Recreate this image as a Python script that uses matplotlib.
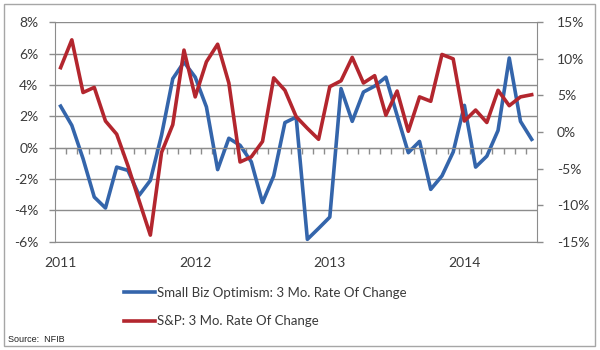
import matplotlib.pyplot as plt
import numpy as np
from matplotlib.lines import Line2D
from matplotlib.patches import Rectangle
from matplotlib.ticker import FixedLocator, FuncFormatter

# monthly values, Jan 2011 .. Jul 2014
years = ['2011', '2012', '2013', '2014']
small_biz = [2.65, 1.42, -0.7, -3.15, -3.85, -1.24, -1.45, -3.04, -2.09, 0.8, 4.4,
             5.46, 4.5, 2.6, -1.4, 0.6, 0.15, -0.9, -3.5, -1.8, 1.6, 1.95,
             -5.85, -5.15, -4.43, 3.77, 1.68, 3.55, 3.93, 4.5, 2.06, -0.32,
             0.4, -2.66, -1.8, -0.28, 2.7, -1.24, -0.54, 1.1, 5.72, 1.68, 0.53]
sp500 = [8.8, 12.6, 5.4, 6.1, 1.5, -0.3, -4.6, -9.4, -14.1, -2.8, 1.0,
         11.2, 4.8, 9.6, 12.0, 6.7, -4.1, -3.4, -1.3, 7.4, 5.7, 2.1,
         0.5, -1.0, 6.2, 7.0, 10.2, 6.7, 7.7, 2.3, 5.6, 0.1,
         4.8, 4.2, 10.6, 10.0, 1.5, 3.0, 1.3, 5.7, 3.6, 4.8, 5.1]
labels = ['Small Biz Optimism: 3 Mo. Rate Of Change', 'S&P: 3 Mo. Rate Of Change']

blue = '#3465ab'
red = '#b3262e'
gray = '#8c8c8c'
txt = '#3a3a3a'

plt.rcParams['font.family'] = ['Lato', 'DejaVu Sans']

fig = plt.figure(figsize=(6, 3.5), dpi=100)
ax = fig.add_axes([55 / 600, 1 - 241.7 / 350, (537.3 - 55) / 600, (241.7 - 22.3) / 350])
ax2 = ax.twinx()

x = np.arange(len(small_biz))
ax.plot(x, small_biz, color=blue, lw=2.6)
ax2.plot(x, sp500, color=red, lw=2.6)

ax.set_xlim(-0.5, len(x) - 0.5)
ax.set_ylim(-6, 8)
ax2.set_ylim(-15, 15)
ax.set_yticks(range(-6, 9, 2))
ax2.set_yticks(range(-15, 16, 5))
pct = FuncFormatter(lambda v, p: f'{v:.0f}%')
ax.yaxis.set_major_formatter(pct)
ax2.yaxis.set_major_formatter(pct)

ax.yaxis.grid(True, color=gray, lw=1.0)
ax.set_axisbelow(True)

# year labels under the plot, month ticks on the 0% line
ax.set_xticks([12 * i for i in range(len(years))])
ax.set_xticklabels(years)
ax.xaxis.set_minor_locator(FixedLocator(np.arange(0.5, len(x) - 0.5, 1)))
ax.spines['top'].set_position(('data', 0))
ax.tick_params(axis='x', which='major', bottom=True, top=False, length=0,
               pad=11, labelsize=10, labelcolor=txt)
ax.tick_params(axis='x', which='minor', bottom=False, top=True, direction='in',
               length=4, width=1, color=gray)
ax.tick_params(axis='y', length=4, width=1, color=gray, pad=8, labelsize=10, labelcolor=txt)
ax2.tick_params(axis='y', length=4, width=1, color=gray, pad=10, labelsize=10, labelcolor=txt)

for s in ['left', 'bottom', 'top']:
    ax.spines[s].set_color(gray)
ax.spines['right'].set_visible(False)
for s in ['left', 'bottom', 'top']:
    ax2.spines[s].set_visible(False)
ax2.spines['right'].set_color(gray)

handles = [Line2D([], [], color=blue, lw=2.6), Line2D([], [], color=red, lw=2.6)]
fig.legend(handles, labels, loc='upper left', bbox_to_anchor=(124 / 600, 1 - 287 / 350),
           frameon=False, fontsize=9.5, handlelength=2.35, handletextpad=0.15,
           labelspacing=1.25, borderpad=0, borderaxespad=0, labelcolor=txt)

fig.text(8 / 600, 1 - 339 / 350, 'Source:  NFIB', fontsize=6.5, va='center',
         family=['Liberation Sans', 'DejaVu Sans'], color='#222222')

fig.patches.append(Rectangle((4 / 600, 4 / 350), 591 / 600, 342 / 350,
                             transform=fig.transFigure, fill=False,
                             edgecolor='#a6a6a6', lw=1))

fig.savefig('out.png', dpi=100)
